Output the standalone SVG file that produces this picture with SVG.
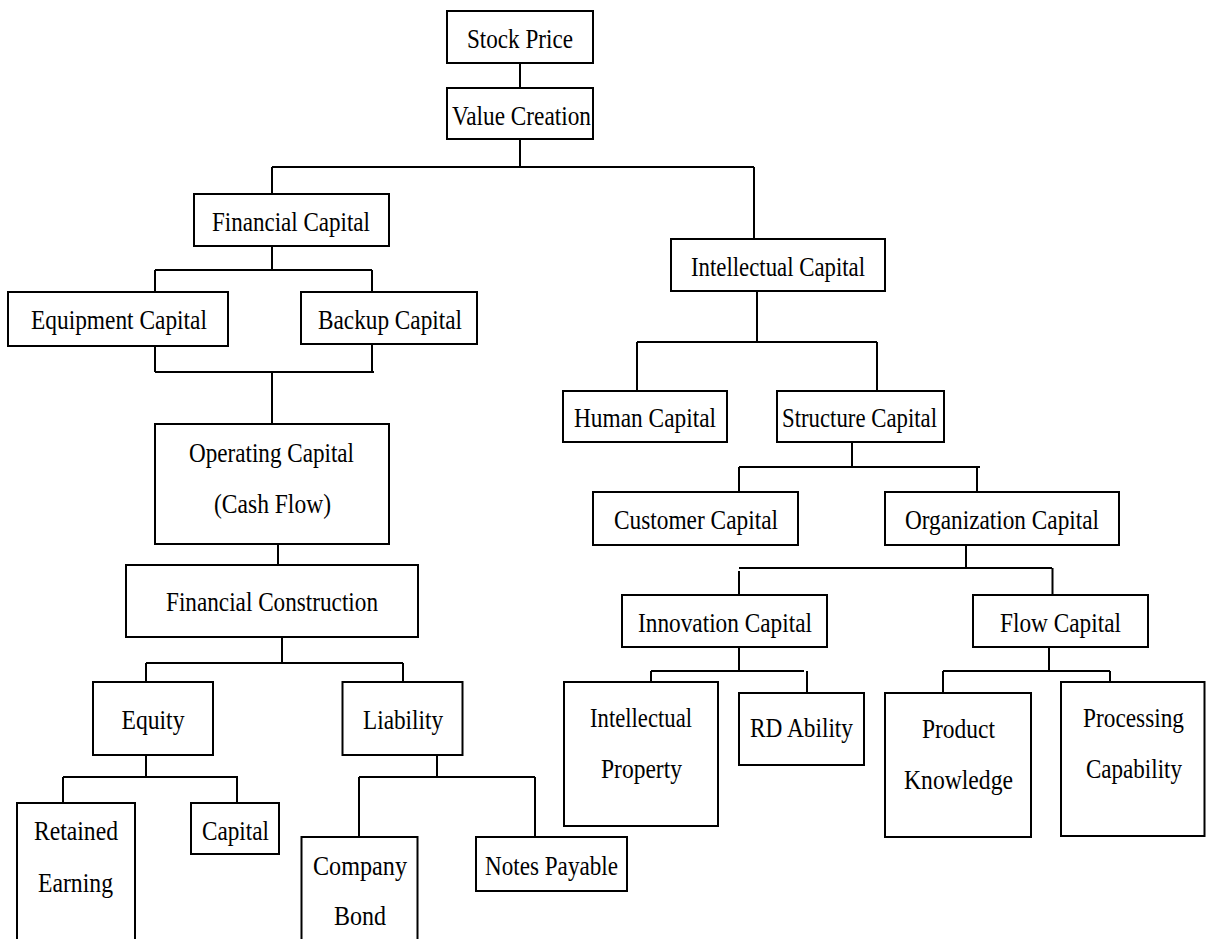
<svg xmlns="http://www.w3.org/2000/svg" width="1206" height="939" viewBox="0 0 1206 939">
<style>
.box{fill:#fff;stroke:#000;stroke-width:2}
.ln{fill:none;stroke:#000;stroke-width:2}
text{font-family:"Liberation Serif","Times New Roman",serif;font-size:27.5px;fill:#000}
</style>
<rect width="1206" height="939" fill="#fff"/>
<g id="connectors" class="ln">
<path d="M520 63V88M520 139V167M272 167H754M272 167V194M754 167V239"/>
<path d="M272 246V270M155 270H372M155 270V292M372 270V292"/>
<path d="M155 346V372M372 344V372M155 372H374M272 372V424"/>
<path d="M278 544V565"/>
<path d="M282 637V663M146 663H403M146 663V682M403 663V682"/>
<path d="M146 755V777M63 777H238M63 777V803M237 777V803"/>
<path d="M437 755V777M359 777H535M359 777V837M535 777V837"/>
<path d="M757 291V342M637 342H877M637 342V391M877 342V391"/>
<path d="M852 442V467M739 467H980M739 467V492M977 467V492"/>
<path d="M966 545V569M739 568H1052M739 571V595M1052.5 568V595"/>
<path d="M739 647V671M651 671H804M651 671V682M807 671V693"/>
<path d="M1049 647V671M943 671H1110M943 671V693M1110 671V682"/>
</g>
<g id="stock-price"><rect class="box" x="447" y="11" width="146" height="52"/><text x="467" y="48" textLength="106" lengthAdjust="spacingAndGlyphs">Stock Price</text></g>
<g id="value-creation"><rect class="box" x="447" y="88" width="146" height="51"/><text x="452" y="125" textLength="139" lengthAdjust="spacingAndGlyphs">Value Creation</text></g>
<g id="financial-capital"><rect class="box" x="194" y="194" width="195" height="52"/><text x="212" y="231" textLength="158" lengthAdjust="spacingAndGlyphs">Financial Capital</text></g>
<g id="equipment-capital"><rect class="box" x="8" y="292" width="220" height="54"/><text x="31" y="329" textLength="176" lengthAdjust="spacingAndGlyphs">Equipment Capital</text></g>
<g id="backup-capital"><rect class="box" x="301" y="292" width="176" height="52"/><text x="318" y="329" textLength="144" lengthAdjust="spacingAndGlyphs">Backup Capital</text></g>
<g id="operating-capital"><rect class="box" x="155" y="424" width="234" height="120"/><text x="189" y="462" textLength="165" lengthAdjust="spacingAndGlyphs">Operating Capital</text><text x="214" y="513" textLength="117" lengthAdjust="spacingAndGlyphs">(Cash Flow)</text></g>
<g id="financial-construction"><rect class="box" x="126" y="565" width="292" height="72"/><text x="166" y="611" textLength="212" lengthAdjust="spacingAndGlyphs">Financial Construction</text></g>
<g id="equity"><rect class="box" x="93" y="682" width="120" height="73"/><text x="121.5" y="729" textLength="63" lengthAdjust="spacingAndGlyphs">Equity</text></g>
<g id="liability"><rect class="box" x="342.5" y="682" width="120" height="73"/><text x="363" y="729" textLength="80" lengthAdjust="spacingAndGlyphs">Liability</text></g>
<g id="retained-earning"><rect class="box" x="17" y="803" width="118" height="145"/><text x="34" y="840" textLength="84" lengthAdjust="spacingAndGlyphs">Retained</text><text x="38" y="891.5" textLength="75" lengthAdjust="spacingAndGlyphs">Earning</text></g>
<g id="capital"><rect class="box" x="191" y="803" width="88" height="51"/><text x="202" y="840" textLength="67" lengthAdjust="spacingAndGlyphs">Capital</text></g>
<g id="company-bond"><rect class="box" x="301.5" y="837" width="116" height="110"/><text x="313" y="875" textLength="94" lengthAdjust="spacingAndGlyphs">Company</text><text x="334" y="925" textLength="52" lengthAdjust="spacingAndGlyphs">Bond</text></g>
<g id="notes-payable"><rect class="box" x="476" y="837" width="151" height="54"/><text x="485" y="875" textLength="133" lengthAdjust="spacingAndGlyphs">Notes Payable</text></g>
<g id="intellectual-capital"><rect class="box" x="671" y="239" width="214" height="52"/><text x="691" y="276" textLength="174" lengthAdjust="spacingAndGlyphs">Intellectual Capital</text></g>
<g id="human-capital"><rect class="box" x="563" y="391" width="164" height="51"/><text x="574" y="427" textLength="142" lengthAdjust="spacingAndGlyphs">Human Capital</text></g>
<g id="structure-capital"><rect class="box" x="777" y="391" width="167" height="51"/><text x="782" y="427" textLength="155" lengthAdjust="spacingAndGlyphs">Structure Capital</text></g>
<g id="customer-capital"><rect class="box" x="593" y="492" width="205" height="53"/><text x="614" y="529" textLength="164" lengthAdjust="spacingAndGlyphs">Customer Capital</text></g>
<g id="organization-capital"><rect class="box" x="885" y="492" width="234" height="53"/><text x="905" y="529" textLength="194" lengthAdjust="spacingAndGlyphs">Organization Capital</text></g>
<g id="innovation-capital"><rect class="box" x="622" y="595" width="205" height="52"/><text x="638" y="632" textLength="174" lengthAdjust="spacingAndGlyphs">Innovation Capital</text></g>
<g id="flow-capital"><rect class="box" x="973" y="595" width="175" height="52"/><text x="1000" y="632" textLength="121" lengthAdjust="spacingAndGlyphs">Flow Capital</text></g>
<g id="intellectual-property"><rect class="box" x="564" y="682" width="154" height="144"/><text x="590" y="727" textLength="102" lengthAdjust="spacingAndGlyphs">Intellectual</text><text x="601" y="778" textLength="81" lengthAdjust="spacingAndGlyphs">Property</text></g>
<g id="rd-ability"><rect class="box" x="739" y="693" width="125" height="72"/><text x="750" y="737" textLength="103" lengthAdjust="spacingAndGlyphs">RD Ability</text></g>
<g id="product-knowledge"><rect class="box" x="885" y="693" width="146" height="144"/><text x="922" y="738" textLength="73" lengthAdjust="spacingAndGlyphs">Product</text><text x="904" y="789" textLength="109" lengthAdjust="spacingAndGlyphs">Knowledge</text></g>
<g id="processing-capability"><rect class="box" x="1061" y="682" width="143.5" height="154"/><text x="1083" y="727" textLength="101" lengthAdjust="spacingAndGlyphs">Processing</text><text x="1086" y="778" textLength="96" lengthAdjust="spacingAndGlyphs">Capability</text></g>
</svg>
